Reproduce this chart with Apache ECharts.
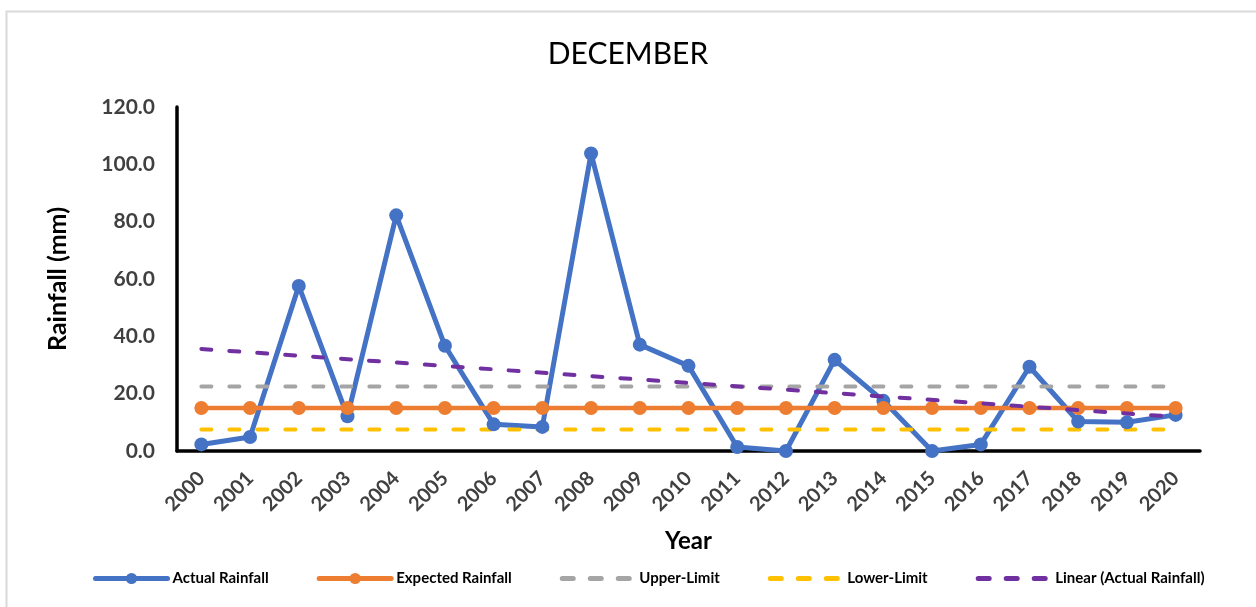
<!DOCTYPE html>
<html>
<head>
<meta charset="utf-8">
<title>DECEMBER</title>
<script src="https://cdn.jsdelivr.net/npm/echarts@6/dist/echarts.min.js"></script>
<style>
  html, body { margin: 0; padding: 0; background: #ffffff; }
  #chart { width: 1256px; height: 607px; }
</style>
</head>
<body>
<div id="chart"></div>
<script>
// December rainfall, 2000–2020
const years = ['2000','2001','2002','2003','2004','2005','2006','2007','2008','2009','2010',
               '2011','2012','2013','2014','2015','2016','2017','2018','2019','2020'];
const actualRainfall = [2.3, 4.9, 57.6, 12.1, 82.2, 36.7, 9.3, 8.4, 103.8, 37.1, 29.7,
                        1.4, 0.0, 31.8, 17.5, 0.0, 2.3, 29.4, 10.3, 10.0, 12.6];
const expectedRainfall = 15.0;
const upperLimit = 22.5;
const lowerLimit = 7.5;
// Trend line end values (first and last year)
const trendStart = 35.6;
const trendEnd = 11.9;
const yTicks = { min: 0, max: 120, interval: 20 };

const constant = v => years.map(() => v);
const trendData = years.map((_, i) => i === 0 ? trendStart : (i === years.length - 1 ? trendEnd : null));

const FONT = 'Lato';
const dash = [10, 18];
const legendDash = { width: 5, type: [11, 17], cap: 'round' };

const chart = echarts.init(document.getElementById('chart'), null, { renderer: 'canvas' });
chart.setOption({
  backgroundColor: '#ffffff',
  animation: false,
  textStyle: { fontFamily: FONT },
  title: {
    text: 'DECEMBER',
    left: 'center',
    top: 34,
    textStyle: { fontFamily: FONT, fontSize: 30, fontWeight: 'normal', color: '#000000' }
  },
  graphic: [{
    type: 'rect',
    shape: { x: 6.5, y: 11.5, width: 1260, height: 610 },
    style: { fill: null, stroke: '#d9d9d9', lineWidth: 2 },
    silent: true
  }],
  grid: { left: 177, right: 56, top: 107, bottom: 156, containLabel: false },
  legend: {
    top: 571,
    left: 93,
    padding: 0,
    itemWidth: 72,
    itemHeight: 14,
    itemGap: 48,
    textStyle: { fontFamily: FONT, fontSize: 15, fontWeight: 'bold', color: '#000000' },
    data: [
      { name: 'Actual Rainfall', lineStyle: { width: 5, cap: 'round' } },
      { name: 'Expected Rainfall', lineStyle: { width: 5, cap: 'round' } },
      { name: 'Upper-Limit', itemStyle: { opacity: 0 }, lineStyle: legendDash },
      { name: 'Lower-Limit', itemStyle: { opacity: 0 }, lineStyle: legendDash },
      { name: 'Linear (Actual Rainfall)', itemStyle: { opacity: 0 }, lineStyle: legendDash }
    ]
  },
  xAxis: {
    type: 'category',
    data: years,
    boundaryGap: true,
    name: 'Year',
    nameLocation: 'middle',
    nameGap: 78,
    nameTextStyle: { fontFamily: FONT, fontSize: 24, fontWeight: 'bold', color: '#000000' },
    axisLine: { lineStyle: { color: '#000000', width: 3.5 } },
    axisTick: { show: false },
    axisLabel: {
      rotate: 45,
      margin: 24,
      fontFamily: FONT,
      fontSize: 20,
      fontWeight: 'bold',
      color: '#404040'
    },
    splitLine: { show: false }
  },
  yAxis: {
    type: 'value',
    min: yTicks.min,
    max: yTicks.max,
    interval: yTicks.interval,
    name: 'Rainfall (mm)',
    nameLocation: 'middle',
    nameGap: 107,
    nameRotate: 90,
    nameTextStyle: { fontFamily: FONT, fontSize: 25, fontWeight: 'bold', color: '#000000' },
    axisLine: { show: true, lineStyle: { color: '#000000', width: 3.5 } },
    axisTick: { show: false },
    axisLabel: {
      margin: 22,
      fontFamily: FONT,
      fontSize: 21,
      fontWeight: 'bold',
      color: '#404040',
      formatter: v => v.toFixed(1)
    },
    splitLine: { show: false }
  },
  series: [
    {
      name: 'Actual Rainfall',
      type: 'line',
      data: actualRainfall,
      symbol: 'circle',
      symbolSize: 14,
      itemStyle: { color: '#4472C4' },
      lineStyle: { color: '#4472C4', width: 5 },
      z: 2
    },
    {
      name: 'Expected Rainfall',
      type: 'line',
      data: constant(expectedRainfall),
      symbol: 'circle',
      symbolSize: 14,
      itemStyle: { color: '#ED7D31' },
      lineStyle: { color: '#ED7D31', width: 4.5 },
      z: 3
    },
    {
      name: 'Upper-Limit',
      type: 'line',
      data: constant(upperLimit),
      symbol: 'none',
      itemStyle: { color: '#A5A5A5' },
      lineStyle: { color: '#A5A5A5', width: 4, type: dash, cap: 'round' },
      z: 2
    },
    {
      name: 'Lower-Limit',
      type: 'line',
      data: constant(lowerLimit),
      symbol: 'none',
      itemStyle: { color: '#FFC000' },
      lineStyle: { color: '#FFC000', width: 4, type: dash, cap: 'round' },
      z: 2
    },
    {
      name: 'Linear (Actual Rainfall)',
      type: 'line',
      data: trendData,
      connectNulls: true,
      symbol: 'none',
      itemStyle: { color: '#7030A0' },
      lineStyle: { color: '#7030A0', width: 4, type: dash, cap: 'round' },
      z: 4
    }
  ]
});
</script>
</body>
</html>
